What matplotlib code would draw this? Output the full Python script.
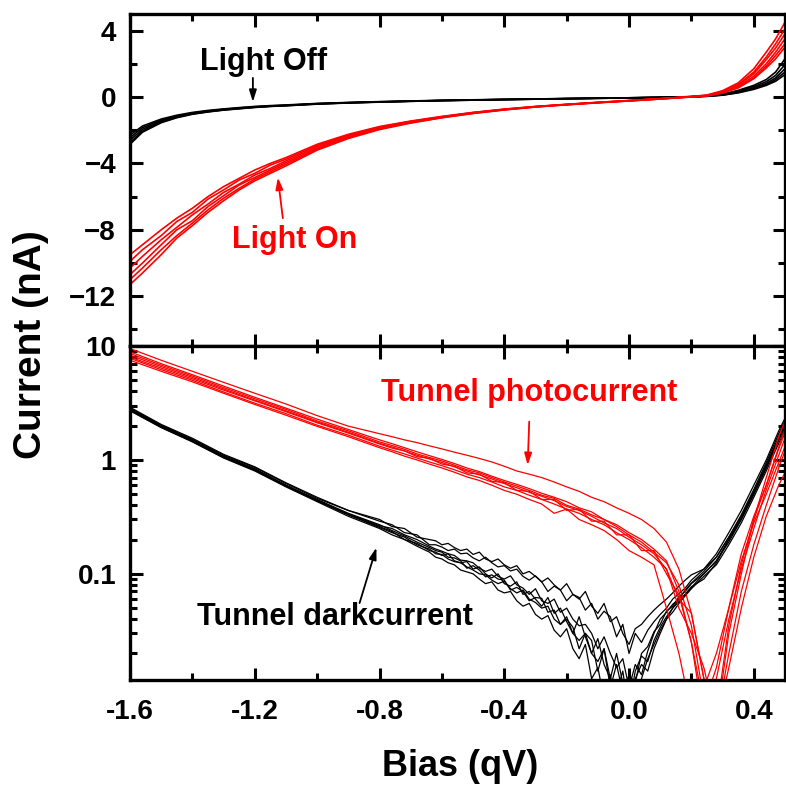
"""I-V sweeps with and without illumination: linear current (top) and tunnel
current magnitude on a log scale (bottom)."""

import matplotlib

matplotlib.use("Agg")
import matplotlib.pyplot as plt
import numpy as np
from matplotlib.ticker import FixedLocator, LogLocator, MultipleLocator, NullFormatter

plt.rcParams["font.family"] = ["Liberation Sans", "DejaVu Sans"]
plt.rcParams["font.weight"] = "bold"

nan = np.nan

# ---- top panel: current (nA) vs bias (qV) ----
bias_top = [-1.6, -1.56, -1.5, -1.45, -1.4, -1.35, -1.3, -1.25, -1.2, -1.15, -1.1,
            -1.0, -0.9, -0.8, -0.7, -0.6, -0.5, -0.4, -0.3, -0.2, -0.1, 0.0,
            0.1, 0.2, 0.25, 0.3, 0.35, 0.4, 0.44, 0.47, 0.5]

light_off = [
    [-2.3, -1.75, -1.33, -1.1, -0.93, -0.81, -0.72, -0.64, -0.57, -0.52, -0.48,
     -0.39, -0.33, -0.28, -0.24, -0.2, -0.17, -0.14, -0.12, -0.09, -0.07, -0.05,
     -0.02, 0.02, 0.07, 0.17, 0.4, 0.7, 1.05, 1.5, 2.3],
    [-2.45, -1.85, -1.4, -1.15, -0.97, -0.84, -0.74, -0.66, -0.59, -0.54, -0.5,
     -0.4, -0.34, -0.29, -0.25, -0.21, -0.18, -0.15, -0.12, -0.1, -0.07, -0.05,
     -0.02, 0.02, 0.06, 0.15, 0.35, 0.62, 0.92, 1.3, 1.95],
    [-2.6, -1.95, -1.45, -1.19, -1.0, -0.87, -0.76, -0.68, -0.61, -0.55, -0.51,
     -0.41, -0.35, -0.3, -0.25, -0.21, -0.18, -0.15, -0.13, -0.1, -0.08, -0.05,
     -0.02, 0.01, 0.05, 0.13, 0.3, 0.55, 0.82, 1.15, 1.7],
    [-2.75, -2.05, -1.5, -1.22, -1.02, -0.89, -0.78, -0.7, -0.62, -0.56, -0.52,
     -0.42, -0.35, -0.3, -0.26, -0.22, -0.19, -0.16, -0.13, -0.1, -0.08, -0.06,
     -0.03, 0.01, 0.05, 0.12, 0.27, 0.5, 0.75, 1.05, 1.5],
    [-2.85, -2.12, -1.55, -1.25, -1.04, -0.9, -0.79, -0.71, -0.63, -0.57, -0.53,
     -0.43, -0.36, -0.31, -0.26, -0.22, -0.19, -0.16, -0.13, -0.11, -0.08, -0.06,
     -0.03, 0.01, 0.04, 0.11, 0.25, 0.46, 0.7, 0.95, 1.35],
]

light_on = [
    [-9.5, -8.9, -8.0, -7.3, -6.7, -6.0, -5.4, -4.9, -4.4, -4.0, -3.65,
     -2.85, -2.25, -1.78, -1.45, -1.17, -0.93, -0.73, -0.57, -0.44, -0.32, -0.21,
     -0.1, 0.03, 0.12, 0.38, 0.85, 1.7, 2.7, 3.5, 4.5],
    [-9.9, -9.2, -8.35, -7.5, -6.95, -6.15, -5.6, -5.0, -4.6, -4.1, -3.75,
     -2.92, -2.3, -1.82, -1.47, -1.19, -0.94, -0.74, -0.58, -0.45, -0.33, -0.22,
     -0.1, 0.02, 0.1, 0.33, 0.75, 1.5, 2.4, 3.2, 4.1],
    [-10.3, -9.6, -8.6, -7.85, -7.1, -6.45, -5.75, -5.25, -4.7, -4.3, -3.85,
     -3.0, -2.35, -1.86, -1.5, -1.2, -0.95, -0.75, -0.58, -0.45, -0.33, -0.22,
     -0.11, 0.02, 0.09, 0.3, 0.7, 1.4, 2.25, 2.95, 3.8],
    [-10.7, -10.0, -8.9, -8.0, -7.45, -6.6, -5.95, -5.3, -4.85, -4.4, -3.95,
     -3.08, -2.4, -1.9, -1.53, -1.22, -0.97, -0.76, -0.59, -0.46, -0.34, -0.23,
     -0.11, 0.01, 0.08, 0.27, 0.62, 1.25, 2.0, 2.7, 3.5],
    [-11.0, -10.3, -9.2, -8.35, -7.6, -6.8, -6.1, -5.5, -4.95, -4.5, -4.05,
     -3.15, -2.45, -1.93, -1.55, -1.24, -0.98, -0.77, -0.6, -0.46, -0.34, -0.23,
     -0.12, 0.01, 0.07, 0.25, 0.58, 1.15, 1.85, 2.5, 3.2],
    [-11.3, -10.6, -9.5, -8.5, -7.75, -6.95, -6.25, -5.6, -5.05, -4.6, -4.15,
     -3.2, -2.5, -1.96, -1.57, -1.25, -0.99, -0.78, -0.6, -0.47, -0.35, -0.24,
     -0.12, 0.0, 0.07, 0.24, 0.55, 1.1, 1.75, 2.3, 3.0],
]

# ---- bottom panel: |current| (nA), log scale ----
# dark current sampled finer through the noisy zero-crossing region
bias_dark = [-1.6, -1.5, -1.4, -1.3, -1.2, -1.1, -1.0, -0.9, -0.8, -0.76, -0.72,
             -0.68, -0.64,
             -0.62, -0.6, -0.58, -0.56, -0.54, -0.52, -0.5, -0.48, -0.46, -0.44,
             -0.42, -0.4, -0.38, -0.36, -0.34, -0.32, -0.3, -0.28, -0.26, -0.24,
             -0.22, -0.2, -0.18, -0.16, -0.14, -0.12, -0.1, -0.08, -0.06, -0.04,
             -0.02, 0.0, 0.02, 0.04, 0.06, 0.08, 0.1, 0.12, 0.14, 0.16, 0.18, 0.2,
             0.24, 0.28, 0.32, 0.36, 0.4, 0.44, 0.48, 0.52]

dark_current = [
    [2.8, 2.0, 1.5, 1.08, 0.84, 0.6, 0.45, 0.34, 0.27, 0.24, 0.215, 0.19, 0.17,
     0.16, 0.155, 0.14, 0.138, 0.13, 0.112, 0.118, 0.108, 0.094, 0.098, 0.09, 0.088,
     0.072, 0.076, 0.07, 0.058, 0.062, 0.061, 0.046, 0.048, 0.036, 0.04, 0.034, 0.022,
     0.03, 0.026, 0.014, 0.022, 0.01, 0.016, 0.009, 0.013, 0.011, 0.02, 0.023, 0.031,
     0.036, 0.047, 0.052, 0.063, 0.07, 0.082,
     0.1, 0.13, 0.19, 0.3, 0.5, 0.85, 1.5, 2.6],
    [2.9, 2.05, 1.55, 1.12, 0.87, 0.63, 0.47, 0.36, 0.29, 0.27, 0.23, 0.22, 0.18,
     0.18, 0.172, 0.16, 0.165, 0.15, 0.152, 0.138, 0.13, 0.14, 0.125, 0.115, 0.118,
     0.106, 0.11, 0.095, 0.088, 0.096, 0.085, 0.07, 0.078, 0.072, 0.058, 0.066, 0.062,
     0.048, 0.055, 0.04, 0.047, 0.042, 0.028, 0.036, 0.02, 0.03, 0.025, 0.032, 0.038,
     0.044, 0.05, 0.06, 0.067, 0.075, 0.088,
     0.11, 0.14, 0.21, 0.33, 0.55, 0.95, 1.7, 2.9],
    [2.7, 1.92, 1.44, 1.04, 0.8, 0.58, 0.43, 0.32, 0.25, 0.22, 0.2, 0.175, 0.155,
     0.14, 0.135, 0.125, 0.12, 0.108, 0.104, 0.1, 0.09, 0.082, 0.085, 0.072, 0.068,
     0.07, 0.058, 0.052, 0.055, 0.044, 0.04, 0.043, 0.032, 0.028, 0.033, 0.022, 0.018,
     0.024, 0.012, 0.015, 0.008, 0.013, 0.006, nan, 0.008, 0.012, 0.016, 0.014, 0.022,
     0.03, 0.04, 0.046, 0.055, 0.064, 0.074,
     0.095, 0.12, 0.18, 0.28, 0.47, 0.8, 1.4, 2.4],
    [2.75, 1.95, 1.47, 1.06, 0.82, 0.59, 0.44, 0.33, 0.26, 0.235, 0.2, 0.185, 0.16,
     0.155, 0.145, 0.15, 0.13, 0.125, 0.128, 0.11, 0.115, 0.1, 0.092, 0.1, 0.082,
     0.078, 0.085, 0.066, 0.07, 0.06, 0.052, 0.062, 0.045, 0.05, 0.038, 0.03, 0.042,
     0.028, 0.02, 0.027, 0.016, 0.012, 0.02, 0.011, 0.007, 0.014, 0.019, 0.017, 0.026,
     0.034, 0.042, 0.05, 0.057, 0.066, 0.077,
     0.09, 0.125, 0.2, 0.31, 0.52, 0.9, 1.6, 2.7],
    [2.85, 2.02, 1.52, 1.1, 0.86, 0.62, 0.46, 0.36, 0.3, 0.26, 0.25, 0.21, 0.2,
     0.195, 0.18, 0.185, 0.17, 0.16, 0.165, 0.148, 0.155, 0.135, 0.128, 0.135, 0.12,
     0.112, 0.118, 0.1, 0.105, 0.095, 0.085, 0.092, 0.08, 0.072, 0.082, 0.066, 0.06,
     0.07, 0.052, 0.045, 0.055, 0.038, 0.042, 0.03, 0.024, 0.033, 0.036, 0.042, 0.048,
     0.054, 0.06, 0.068, 0.078, 0.088, 0.098,
     0.11, 0.15, 0.23, 0.36, 0.6, 1.0, 1.8, 3.0],
    [2.78, 1.98, 1.48, 1.07, 0.83, 0.6, 0.44, 0.33, 0.255, 0.23, 0.21, 0.18, 0.165,
     0.15, 0.148, 0.135, 0.128, 0.125, 0.115, 0.108, 0.1, 0.098, 0.088, 0.082, 0.086,
     0.074, 0.068, 0.072, 0.06, 0.056, 0.05, 0.052, 0.04, 0.036, 0.042, 0.03, 0.026,
     0.03, 0.02, 0.017, 0.022, 0.012, 0.009, 0.014, 0.006, nan, 0.012, 0.018, 0.024,
     0.032, 0.04, 0.05, 0.06, 0.066, 0.076,
     0.1, 0.13, 0.2, 0.3, 0.5, 0.85, 1.5, 2.5],
    [2.72, 1.94, 1.45, 1.05, 0.81, 0.59, 0.44, 0.335, 0.265, 0.25, 0.22, 0.2, 0.175,
     0.165, 0.158, 0.15, 0.145, 0.132, 0.13, 0.125, 0.112, 0.105, 0.11, 0.095, 0.09,
     0.096, 0.08, 0.075, 0.066, 0.074, 0.058, 0.055, 0.06, 0.046, 0.05, 0.04, 0.035,
     0.036, 0.03, 0.022, 0.028, 0.02, 0.015, 0.018, 0.01, 0.016, 0.013, 0.021, 0.03,
     0.04, 0.046, 0.054, 0.06, 0.072, 0.083,
     0.105, 0.14, 0.21, 0.32, 0.53, 0.9, 1.55, 2.6],
]

bias_photo = [-1.6, -1.5, -1.4, -1.3, -1.2, -1.1, -1.0, -0.9, -0.8, -0.76, -0.72,
              -0.68, -0.64, -0.6, -0.56, -0.52, -0.48, -0.44, -0.4, -0.36, -0.32,
              -0.28, -0.24, -0.2, -0.16, -0.12, -0.08, -0.04, 0.0, 0.04, 0.08,
              0.12, 0.16, 0.2, 0.24, 0.28, 0.32, 0.36, 0.4, 0.44, 0.48, 0.52]

photo_current = [
    [9.5, 7.5, 6.0, 4.8, 3.85, 3.1, 2.45, 1.98, 1.7, 1.6, 1.5, 1.42, 1.33, 1.25,
     1.17, 1.1, 1.03, 0.96, 0.88, 0.8, 0.75, 0.7, 0.64, 0.58, 0.53, 0.47, 0.43,
     0.38, 0.34, 0.3, 0.25, 0.19, 0.11, 0.045, 0.012, 0.005, 0.03, 0.1, 0.3, 0.7,
     1.6, 3.0],
    [8.9, 7.0, 5.6, 4.45, 3.55, 2.85, 2.28, 1.85, 1.5, 1.39, 1.28, 1.18, 1.09,
     1.01, 0.93, 0.85, 0.79, 0.72, 0.66, 0.61, 0.56, 0.51, 0.47, 0.43, 0.38, 0.35,
     0.3, 0.27, 0.23, 0.2, 0.165, 0.13, 0.07, 0.025, 0.005, 0.012, 0.04, 0.11, 0.25,
     0.55, 1.1, 2.2],
    [8.3, 6.6, 5.3, 4.2, 3.35, 2.7, 2.15, 1.75, 1.4, 1.3, 1.2, 1.1, 1.02, 0.95,
     0.87, 0.8, 0.74, 0.68, 0.62, 0.57, 0.52, 0.48, 0.44, 0.39, 0.36, 0.32, 0.28,
     0.25, 0.21, 0.18, 0.15, 0.11, 0.06, 0.045, 0.012, 0.005, 0.02, 0.07, 0.18,
     0.4, 0.85, 1.7],
    [7.8, 6.2, 5.0, 3.95, 3.15, 2.55, 2.02, 1.65, 1.32, 1.22, 1.13, 1.04, 0.96,
     0.89, 0.82, 0.75, 0.7, 0.64, 0.58, 0.54, 0.49, 0.45, 0.41, 0.37, 0.34, 0.3,
     0.27, 0.23, 0.2, 0.17, 0.14, 0.11, 0.05, 0.03, 0.015, 0.005, 0.015, 0.05,
     0.14, 0.32, 0.6, 1.0],
    [8.0, 6.4, 5.15, 4.1, 3.3, 2.65, 2.12, 1.72, 1.38, 1.27, 1.2, 1.07, 1.03,
     0.92, 0.88, 0.77, 0.75, 0.65, 0.63, 0.54, 0.53, 0.45, 0.45, 0.36, 0.37, 0.29,
     0.29, 0.22, 0.22, 0.16, 0.16, 0.1, 0.065, 0.025, 0.007, 0.015, 0.05, 0.15, 0.32,
     0.6, 1.3, 2.6],
    [7.5, 6.0, 4.85, 3.85, 3.07, 2.47, 1.97, 1.6, 1.28, 1.18, 1.08, 1.0, 0.92,
     0.85, 0.78, 0.71, 0.66, 0.6, 0.54, 0.5, 0.45, 0.41, 0.34, 0.37, 0.3, 0.27,
     0.24, 0.2, 0.16, 0.14, 0.12, 0.05, 0.02, 0.006, 0.01, 0.02, 0.05, 0.13, 0.28,
     0.5, 0.95, 1.8],
    [8.6, 6.8, 5.45, 4.32, 3.45, 2.78, 2.2, 1.8, 1.44, 1.34, 1.24, 1.13, 1.05,
     0.98, 0.9, 0.82, 0.77, 0.7, 0.64, 0.59, 0.54, 0.49, 0.46, 0.4, 0.37, 0.33,
     0.3, 0.26, 0.22, 0.19, 0.155, 0.125, 0.08, 0.035, 0.008, 0.006, 0.035, 0.12,
     0.3, 0.6, 1.25, 2.4],
]

RED = "#ff0000"
TICK_FS = 20
NOTE_FS = 22


def _style(ax):
    ax.set_xlim(-1.6, 0.5)
    ax.xaxis.set_major_locator(FixedLocator([-1.6, -1.2, -0.8, -0.4, 0.0, 0.4]))
    ax.xaxis.set_minor_locator(MultipleLocator(0.2))
    ax.tick_params(which="both", direction="in", top=True, right=True,
                   labelsize=TICK_FS, width=2.2)
    ax.tick_params(which="major", length=9)
    ax.tick_params(which="minor", length=5)
    ax.tick_params(axis="y", pad=10)
    ax.tick_params(axis="x", pad=14)
    for s in ax.spines.values():
        s.set_linewidth(2.4)


def _arrow(ax, tail, tip, color):
    ax.annotate("", xy=tip, xytext=tail,
                arrowprops=dict(arrowstyle="-|>,head_length=0.7,head_width=0.22",
                                color=color, lw=1.3, shrinkA=0, shrinkB=0))


fig = plt.figure(figsize=(7.86, 7.85), dpi=100)
ax_top = fig.add_axes([0.1654, 0.5592, 0.8333, 0.4230])
ax_bot = fig.add_axes([0.1654, 0.1338, 0.8333, 0.4254])

for ys in light_off:
    ax_top.plot(bias_top, ys, color="black", lw=1.2)
for ys in light_on:
    ax_top.plot(bias_top, ys, color=RED, lw=1.2)
ax_top.set_ylim(-15, 5)
ax_top.yaxis.set_major_locator(MultipleLocator(4))
ax_top.yaxis.set_minor_locator(MultipleLocator(2))
_style(ax_top)
ax_top.tick_params(labelbottom=False)

ax_top.text(-1.171, 2.1, "Light Off", ha="center", va="center", fontsize=NOTE_FS)
_arrow(ax_top, (-1.206, 1.15), (-1.206, -0.3), "black")
ax_top.text(-1.072, -8.6, "Light On", ha="center", va="center",
            fontsize=NOTE_FS, color=RED)
_arrow(ax_top, (-1.11, -7.3), (-1.126, -4.85), RED)

for ys in dark_current:
    ax_bot.plot(bias_dark, ys, color="black", lw=0.9)
for ys in photo_current:
    ax_bot.plot(bias_photo, ys, color=RED, lw=0.9)
ax_bot.set_yscale("log")
ax_bot.set_ylim(0.0117, 10)
ax_bot.yaxis.set_major_locator(FixedLocator([0.01, 0.1, 1, 10]))
ax_bot.yaxis.set_minor_locator(LogLocator(base=10, subs=np.arange(2, 10), numticks=20))
ax_bot.yaxis.set_minor_formatter(NullFormatter())
ax_bot.set_yticklabels(["0.01", "0.1", "1", "10"])
_style(ax_bot)
ax_bot.set_xticklabels(["-1.6", "-1.2", "-0.8", "-0.4", "0.0", "0.4"])

ax_bot.text(-0.32, 3.84, "Tunnel photocurrent", ha="center", va="center",
            fontsize=NOTE_FS, color=RED)
_arrow(ax_bot, (-0.32, 2.17), (-0.325, 0.9), RED)
ax_bot.text(-0.942, 0.042, "Tunnel darkcurrent", ha="center", va="center",
            fontsize=NOTE_FS)
_arrow(ax_bot, (-0.864, 0.0554), (-0.81, 0.17), "black")

fig.text(31 / 786, 1 - 345 / 785, "Current (nA)", rotation=90, ha="center",
         va="center", fontsize=28)
fig.text(460 / 786, 1 - 766 / 785, "Bias (qV)", ha="center", va="center",
         fontsize=26)

fig.savefig("out.png", dpi=100)
